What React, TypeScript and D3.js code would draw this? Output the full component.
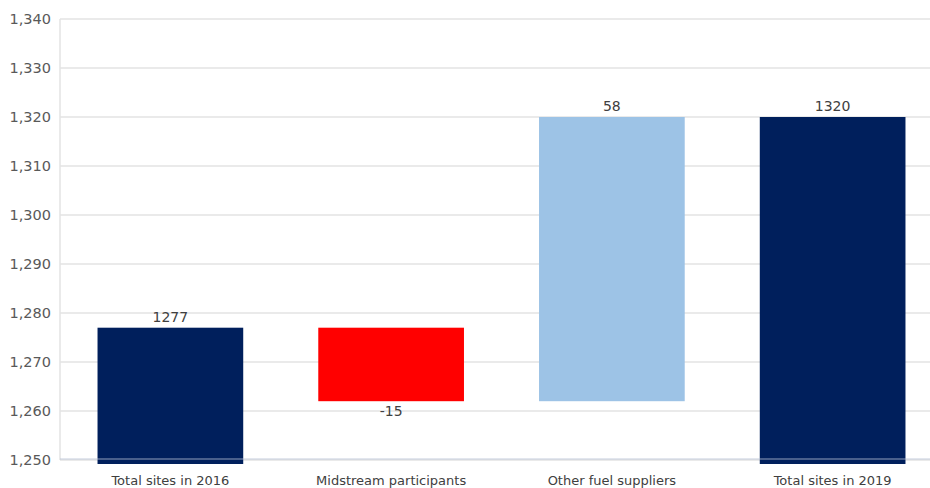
import React from "react";
import * as d3 from "d3";

const categories = ["Total sites in 2016", "Midstream participants", "Other fuel suppliers", "Total sites in 2019"];
const deltas = [1277, -15, 58, 1320];
const isTotal = [true, false, false, true];
const barColors = ["#001f5c", "#ff0000", "#9dc3e6", "#001f5c"];
const barLabels = ["1277", "-15", "58", "1320"];
const yTicks = [1250, 1260, 1270, 1280, 1290, 1300, 1310, 1320, 1330, 1340];

const W = 930;
const H = 488;

export default function App() {
  const x = d3.scaleBand<string>().domain(categories).range([60, 943]).paddingInner(0.34).paddingOuter(0.17);
  const y = d3.scaleLinear().domain([1250, 1340]).range([460, 19]);
  const fmt = d3.format(",");

  let running = 0;
  const bars = categories.map((c, i) => {
    let lo: number, hi: number;
    if (isTotal[i]) {
      running = deltas[i];
      lo = 1250;
      hi = deltas[i];
    } else {
      const start = running;
      running = running + deltas[i];
      lo = Math.min(start, running);
      hi = Math.max(start, running);
    }
    return { c, i, lo, hi, total: isTotal[i], neg: deltas[i] < 0 };
  });

  const font = "'Century Gothic', 'DejaVu Sans', sans-serif";

  return (
    <svg width={W} height={H} style={{ position: "absolute", left: 0, top: 0, background: "#fff" }}>
      {yTicks.map((t) => (
        <g key={t}>
          <line x1={60} x2={W} y1={y(t)} y2={y(t)} stroke="#e3e3e3" strokeWidth={1.5} />
          <text x={51} y={y(t)} dy="0.35em" textAnchor="end" fontFamily={font} fontSize={14.5} fill="#595959">
            {fmt(t)}
          </text>
        </g>
      ))}
      <line x1={60} x2={60} y1={y(1340)} y2={y(1250)} stroke="#e3e3e3" strokeWidth={1.5} />
      {bars.map((b) => {
        const x0 = x(b.c)!;
        const top = y(b.hi);
        const bottom = b.total ? y(1250) + 4 : y(b.lo);
        return (
          <rect key={b.c} x={x0} y={top} width={x.bandwidth()} height={bottom - top} fill={barColors[b.i]} />
        );
      })}
      <line x1={60} x2={W} y1={y(1250) - 1} y2={y(1250) - 1} stroke="#b8c0d4" strokeWidth={1} opacity={0.8} />
      {bars.map((b) => {
        const cx = x(b.c)! + x.bandwidth() / 2;
        const ty = b.neg ? y(b.lo) + 15 : y(b.hi) - 6;
        return (
          <text key={"l" + b.c} x={cx} y={ty} textAnchor="middle" fontFamily={font} fontSize={14} fill="#404040">
            {barLabels[b.i]}
          </text>
        );
      })}
      {categories.map((c) => (
        <text key={"c" + c} x={x(c)! + x.bandwidth() / 2} y={485} textAnchor="middle" fontFamily={font} fontSize={13} fill="#404040">
          {c}
        </text>
      ))}
    </svg>
  );
}
